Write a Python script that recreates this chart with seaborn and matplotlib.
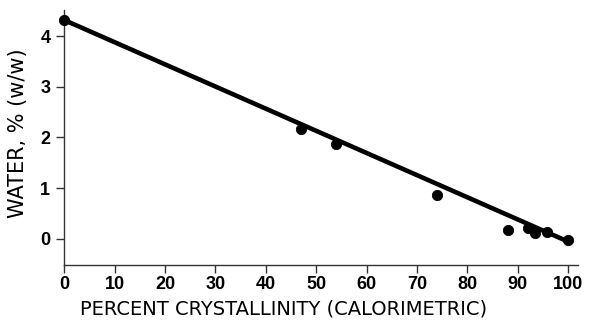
import numpy as np
import pandas as pd
import matplotlib
matplotlib.use("Agg")
import matplotlib.pyplot as plt
import seaborn as sns

crystallinity = [0, 47, 54, 74, 88, 92, 93.3, 95.8, 100]
water = [4.32, 2.17, 1.87, 0.87, 0.18, 0.21, 0.11, 0.14, -0.03]

# drawn fit line
fit_x = [0, 100]
fit_y = [4.32, -0.06]

x_ticks = list(range(0, 101, 10))
y_ticks = [0, 1, 2, 3, 4]

sns.set_theme(style="ticks")
plt.rcParams['font.family'] = ['Liberation Sans', 'DejaVu Sans']
plt.rcParams['text.color'] = 'black'
plt.rcParams['axes.labelcolor'] = 'black'
plt.rcParams['xtick.labelcolor'] = 'black'
plt.rcParams['ytick.labelcolor'] = 'black'

fig = plt.figure(figsize=(5.89, 3.2), dpi=100)
ax = fig.add_axes([0.109, 0.172, 0.873, 0.797])

pts = pd.DataFrame({'x': crystallinity, 'y': water})
line = pd.DataFrame({'x': fit_x, 'y': fit_y})

sns.lineplot(data=line, x='x', y='y', ax=ax, color='black', linewidth=3.3)
sns.scatterplot(data=pts, x='x', y='y', ax=ax, color='black', s=55,
                edgecolor='black', zorder=3, clip_on=False)

ax.set_xlim(0, 102)
ax.set_ylim(-0.52, 4.52)
ax.set_xticks(x_ticks)
ax.set_yticks(y_ticks)
ax.tick_params(axis='both', labelsize=13, width=1, length=6, color='#333333')
ax.tick_params(axis='x', pad=2)
ax.tick_params(axis='y', pad=4)
for lab in ax.get_xticklabels() + ax.get_yticklabels():
    lab.set_fontweight('bold')

ax.set_xlabel('PERCENT CRYSTALLINITY (CALORIMETRIC)', fontsize=14,
              family='DejaVu Sans')
ax.set_ylabel('WATER, % (w/w)', fontsize=15, family='DejaVu Sans')
ax.xaxis.set_label_coords(0.426, -0.135)
ax.yaxis.set_label_coords(-0.07, 0.518)

sns.despine(ax=ax)
for s in ['left', 'bottom']:
    ax.spines[s].set_color('#333333')
    ax.spines[s].set_linewidth(1)

fig.savefig('out.png', dpi=100)
